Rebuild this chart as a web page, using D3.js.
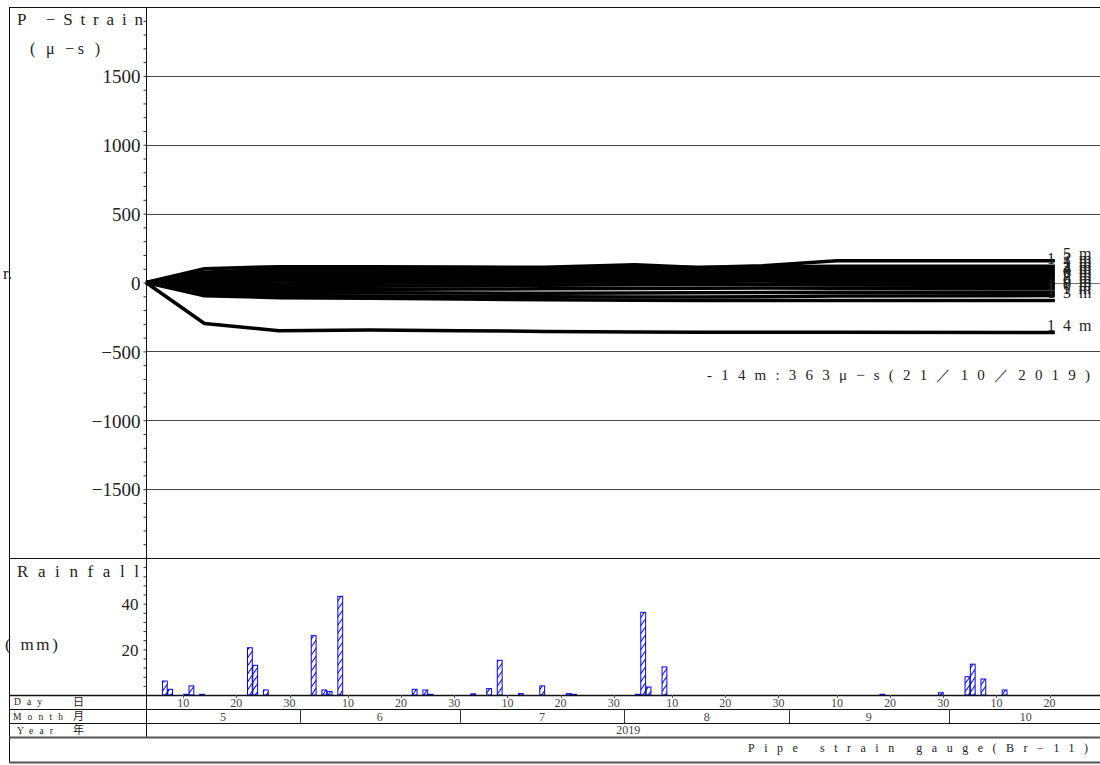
<!DOCTYPE html>
<html><head><meta charset="utf-8">
<script src="https://cdn.jsdelivr.net/npm/d3@7"></script>
<style>
body{margin:0;background:#fff}
svg{display:block;background:#fff}
</style>
</head><body>
<svg id="c" width="1100" height="765"></svg>
<script>
// ---------------- data ----------------
const measureDates = ["2019-05-03","2019-05-14","2019-05-28","2019-06-14","2019-07-01","2019-07-17","2019-08-03","2019-08-15","2019-08-27","2019-09-10","2019-10-21"];
const strainNames = ["-5m","-12m","-1m","-2m","-3m","-4m","-6m","-7m","-8m","-9m","-10m","-11m","-13m","-14m"];
const s01 = [0, 100, 115, 115, 112, 110, 128, 108, 122, 158, 158];
const s02 = [0, 75, 98, 102, 104, 106, 112, 108, 115, 118, 118];
const s03 = [0, 60, 82, 86, 88, 92, 96, 94, 98, 100, 98];
const s04 = [0, 45, 64, 68, 70, 74, 78, 80, 82, 80, 78];
const s05 = [0, 30, 46, 50, 52, 56, 60, 62, 64, 62, 58];
const s06 = [0, 15, 28, 32, 34, 38, 42, 44, 46, 42, 38];
const s07 = [0, 0, 10, 14, 16, 20, 24, 26, 28, 22, 18];
const s08 = [0, -15, -10, -6, -2, 2, 6, 8, 10, 2, -2];
const s09 = [0, -30, -30, -28, -24, -20, -16, -14, -12, -18, -22];
const s10 = [0, -48, -52, -50, -48, -46, -44, -42, -40, -42, -45];
const s11 = [0, -65, -74, -74, -76, -78, -76, -74, -72, -70, -70];
const s12 = [0, -82, -94, -98, -100, -104, -105, -106, -104, -98, -95];
const s13 = [0, -97, -110, -115, -120, -125, -128, -130, -130, -130, -130];
const s14 = [0, -298, -350, -345, -350, -355, -360, -362, -362, -362, -363];
const strainValues = [s01,s02,s03,s04,s05,s06,s07,s08,s09,s10,s11,s12,s13,s14];

const rainDates = ["2019-05-06","2019-05-07","2019-05-10","2019-05-11","2019-05-13","2019-05-22","2019-05-23","2019-05-25",
  "2019-06-03","2019-06-05","2019-06-06","2019-06-08","2019-06-22","2019-06-24","2019-06-25",
  "2019-07-03","2019-07-06","2019-07-08","2019-07-12","2019-07-16","2019-07-21","2019-07-22",
  "2019-08-03","2019-08-04","2019-08-05","2019-08-08","2019-09-18","2019-09-29",
  "2019-10-04","2019-10-05","2019-10-07","2019-10-11"];
const rainValues = [6.1,2.5,0.3,4,0.3,20.7,13,2.2,
  26,2.2,1.5,43.2,2.5,2.2,0.3,
  0.5,2.8,15.2,0.6,4,0.6,0.3,
  0.3,36.2,3.5,12.3,0.3,1,
  8,13.5,7,2.2];

const strainMajorTicks = [-1500,-1000,-500,0,500,1000,1500];
const rainMajorTicks = [20,40];
const dayTickLabels = [10,20,30];
const monthLabels = [5,6,7,8,9,10];
const yearLabel = "2019";
const annotationText = "-14m:363μ−s(21／10／2019)";
const footerText = "Pipe strain gauge(Br−11)";

// ---------------- layout ----------------
const FONT = "'Liberation Serif','DejaVu Serif','Noto Serif',serif";
const svg = d3.select("#c").attr("font-family", FONT);
const W = 1100, FL = 9, L = 146, R = 1102.7, T = 7, MID = 558, RB = 695;
const rowDay = 709, rowMonth = 723, rowYear = 737, BOT = 762;
const parse = d3.utcParse("%Y-%m-%d");
const x = d3.scaleUtc().domain([Date.UTC(2019,4,3), Date.UTC(2019,9,30)]).range([L, R]);
const y = d3.scaleLinear().domain([-2000, 2000]).range([MID, T]);
const yr = d3.scaleLinear().domain([0, 60]).range([RB, MID]);
const px = v => Math.round(v) + 0.5;

// hatch pattern
const defs = svg.append("defs");
const pat = defs.append("pattern").attr("id","hatch").attr("patternUnits","userSpaceOnUse")
  .attr("width",4.6).attr("height",10).attr("patternTransform","rotate(35)");
pat.append("line").attr("x1",0.5).attr("y1",0).attr("x2",0.5).attr("y2",10)
  .attr("stroke","#0000ff").attr("stroke-width",1);

// gridlines strain
svg.append("g").selectAll("line").data(strainMajorTicks).join("line")
  .attr("x1", L).attr("x2", W).attr("y1", d => px(y(d))).attr("y2", d => px(y(d)))
  .attr("stroke", d => d === 0 ? "#777" : "#444").attr("stroke-width", 1);

// strain axis
const strainMinor = d3.range(-1900, 2000, 100);
const ga = svg.append("g").attr("transform", `translate(${L + 0.5},0)`)
  .call(d3.axisLeft(y).tickValues(strainMinor).tickSize(3).tickSizeOuter(0).tickPadding(3)
    .tickFormat(d => strainMajorTicks.includes(d) ? d3.format("")(d).replace("-", "−") : ""));
ga.attr("font-family", FONT).attr("font-size", 19);
ga.select(".domain").remove();
ga.selectAll("line").attr("stroke", "#333");
ga.selectAll("text").attr("dy", "0.36em").attr("fill", "#222");

// rain axis
const rainMinor = d3.range(4, 60, 4);
const gr = svg.append("g").attr("transform", `translate(${L + 0.5},0)`)
  .call(d3.axisLeft(yr).tickValues(rainMinor).tickSize(3).tickSizeOuter(0).tickPadding(5)
    .tickFormat(d => rainMajorTicks.includes(d) ? String(d) : ""));
gr.attr("font-family", FONT).attr("font-size", 17);
gr.select(".domain").remove();
gr.selectAll("line").attr("stroke", "#333");
gr.selectAll("text").attr("dy", "0.36em").attr("fill", "#222");

// rain bars
const rain = rainDates.map((d, i) => ({ date: parse(d), v: rainValues[i] }));
svg.append("g").selectAll("rect").data(rain).join("rect")
  .attr("x", d => x(d.date) + 0.5)
  .attr("width", d => x(d3.utcDay.offset(d.date, 1)) - x(d.date) - 0.5)
  .attr("y", d => yr(d.v))
  .attr("height", d => RB - yr(d.v))
  .attr("fill", "url(#hatch)").attr("stroke", "#0000ff").attr("stroke-width", 1);

// strain lines
const dates = measureDates.map(parse);
const line = d3.line().x(d => x(d.date)).y(d => y(d.v));
const series = strainNames.map((n, i) => ({ name: n, pts: strainValues[i].map((v, j) => ({ date: dates[j], v })) }));
svg.append("g").selectAll("path").data(series).join("path")
  .attr("d", d => line(d.pts)).attr("fill", "none").attr("stroke", "#000")
  .attr("stroke-width", 3.5).attr("stroke-linejoin", "round");

// end labels (digits + m, right column aligned)
svg.append("g").selectAll("text").data(series).join("text")
  .text(d => d.name.replace("-", ""))
  .attr("x", d => 1079 - (d.name.length - 2) * 16)
  .attr("y", d => y(d.pts[d.pts.length - 1].v) - 2)
  .attr("font-size", 16).attr("letter-spacing", 8).attr("fill", "#222");

// annotation
svg.append("text").text(annotationText).attr("x", 707).attr("y", 380).attr("fill", "#222")
  .attr("font-size", 15).attr("textLength", 383).attr("lengthAdjust", "spacing");

// frame lines
const fr = svg.append("g").attr("stroke", "#111").attr("stroke-width", 1);
fr.append("line").attr("x1", FL).attr("x2", W).attr("y1", px(T)).attr("y2", px(T));
fr.append("line").attr("x1", px(FL)).attr("x2", px(FL)).attr("y1", T).attr("y2", BOT);
fr.append("line").attr("x1", px(L)).attr("x2", px(L)).attr("y1", T).attr("y2", rowYear);
fr.append("line").attr("x1", FL).attr("x2", W).attr("y1", px(MID)).attr("y2", px(MID));
[RB, rowDay, rowMonth].forEach(v => fr.append("line").attr("x1", FL).attr("x2", W).attr("y1", px(v)).attr("y2", px(v)));
fr.append("line").attr("x1", FL).attr("x2", W).attr("y1", rowYear + 0.5).attr("y2", rowYear + 0.5).attr("stroke", "#555").attr("stroke-width", 2);
fr.append("line").attr("x1", FL).attr("x2", W).attr("y1", BOT + 0.5).attr("y2", BOT + 0.5).attr("stroke", "#555").attr("stroke-width", 2);
fr.append("line").attr("x1", FL).attr("x2", W).attr("y1", RB + 0.5).attr("y2", RB + 0.5).attr("stroke-width", 1.5);

// day ticks
const dayTicks = [];
monthLabels.forEach(m => dayTickLabels.forEach(d => {
  const dt = new Date(Date.UTC(2019, m - 1, d));
  if (dt.getUTCMonth() === m - 1 && x(dt) < W) dayTicks.push(dt);
}));
const gd = svg.append("g");
gd.selectAll("line").data(dayTicks).join("line")
  .attr("x1", d => px(x(d))).attr("x2", d => px(x(d))).attr("y1", RB).attr("y2", RB + 3)
  .attr("stroke", "#555");
gd.selectAll("text").data(dayTicks).join("text")
  .text(d => d.getUTCDate()).attr("x", d => x(d)).attr("y", 706.5)
  .attr("text-anchor", "middle").attr("font-size", 12).attr("fill", "#444");

// months
const gm = svg.append("g");
monthLabels.forEach(m => {
  const s = Math.max(L, x(new Date(Date.UTC(2019, m - 1, 1))));
  const e = Math.min(R, x(new Date(Date.UTC(2019, m, 1))));
  if (m > monthLabels[0]) gm.append("line").attr("x1", px(s)).attr("x2", px(s))
    .attr("y1", rowDay).attr("y2", rowMonth).attr("stroke", "#333");
  gm.append("text").text(m).attr("x", (s + e) / 2).attr("y", 720.5)
    .attr("text-anchor", "middle").attr("font-size", 12).attr("fill", "#444");
});
svg.append("text").text(yearLabel).attr("x", (L + R) / 2 + 4).attr("y", 734)
  .attr("text-anchor", "middle").attr("font-size", 12).attr("fill", "#444");

// left labels
const lab = (t, xx, yy, fs, len) => {
  const e = svg.append("text").text(t).attr("x", xx).attr("y", yy).attr("font-size", fs).attr("fill", "#222");
  if (len) e.attr("textLength", len).attr("lengthAdjust", "spacing");
  return e;
};
lab("P −Strain", 17, 25, 17, 126);
lab("( μ −s )", 30, 54, 16, 70);
lab("r.", 12, 279, 17).attr("text-anchor", "end");
lab("Rainfall", 17, 576.5, 17, 122);
lab("( mm)", 5, 650, 17, 53);
lab("Day", 14, 705, 9.5, 28);
lab("日", 73, 705.5, 11).attr("font-family", "'Noto Sans CJK JP',sans-serif");
lab("Month", 13, 719.5, 9.5, 50);
lab("月", 73, 720, 11).attr("font-family", "'Noto Sans CJK JP',sans-serif");
lab("Year", 17, 733.5, 9.5, 36);
lab("年", 73, 734, 11).attr("font-family", "'Noto Sans CJK JP',sans-serif");
lab(footerText, 748, 752, 12, 340);
</script>
</body></html>
